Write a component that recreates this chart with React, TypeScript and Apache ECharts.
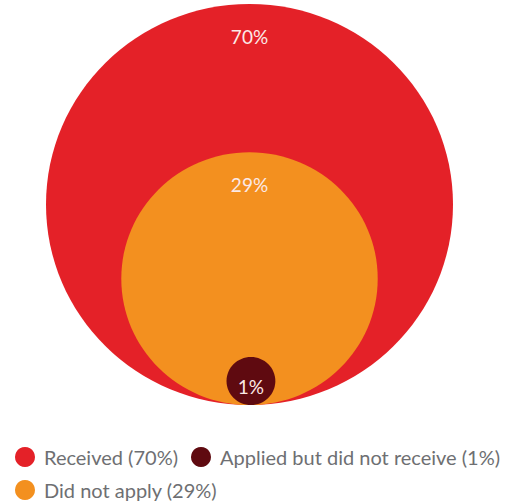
import React, { useEffect, useRef } from "react";
import * as echarts from "echarts";

const categories = ["Received", "Applied but did not receive", "Did not apply"];
const percentages = [70, 1, 29];
// circle geometry (relative units, big circle radius = 100)
const centerX = [0, 0.7, 0];
const centerY = [0, -88, -37];
const radii = [100, 12, 63];
const colors = ["#E42128", "#5F0A10", "#F3901F"];
// drawing order: big, medium, small
const drawOrder = [0, 2, 1];

export default function App() {
  const ref = useRef<HTMLDivElement>(null);
  useEffect(() => {
    if (!ref.current) return;
    const chart = echarts.init(ref.current, undefined, { renderer: "svg" });
    const series = drawOrder.map((i) => ({
      type: "custom",
      name: `${categories[i]} (${percentages[i]}%)`,
      coordinateSystem: "cartesian2d",
      itemStyle: { color: colors[i] },
      data: [[centerX[i], centerY[i], radii[i], percentages[i]]],
      renderItem: (params: any, api: any) => {
        const c = api.coord([api.value(0), api.value(1)]);
        const s = api.size([api.value(2), api.value(2)]);
        const rx = s[0];
        const ry = s[1];
        const small = api.value(2) < 30;
        const ly = small ? c[1] + 6 : c[1] - ry + 32;
        return {
          type: "group",
          children: [
            {
              type: "ellipse",
              shape: { cx: c[0], cy: c[1], rx, ry },
              style: { fill: colors[i] },
            },
            {
              type: "text",
              x: c[0],
              y: ly,
              style: {
                text: `${api.value(3)}%`,
                fill: "#FBE9E6",
                font: "19px Lato",
                align: "center",
                verticalAlign: "middle",
              },
            },
          ],
        };
      },
    }));
    chart.setOption({
      animation: false,
      grid: { left: 46, top: 4, width: 407, height: 401, containLabel: false },
      xAxis: { type: "value", min: -100, max: 100, show: false },
      yAxis: { type: "value", min: -100, max: 100, show: false },
      legend: {
        left: 15,
        top: 447,
        width: 492,
        padding: 0,
        itemGap: 13,
        itemWidth: 20,
        itemHeight: 20,
        icon: "circle",
        textStyle: {
          fontFamily: "Lato",
          fontSize: 20,
          color: "#6E6F72",
          padding: [0, 0, 0, 4],
          lineHeight: 20,
        },
        data: [0, 1, 2].map((i) => ({
          name: `${categories[i]} (${percentages[i]}%)`,
          icon: "circle",
          itemStyle: { color: colors[i] },
        })),
      },
      series,
    } as any);
    return () => chart.dispose();
  }, []);
  return (
    <div
      ref={ref}
      style={{ position: "absolute", left: 0, top: 0, width: 506, height: 501 }}
    />
  );
}
